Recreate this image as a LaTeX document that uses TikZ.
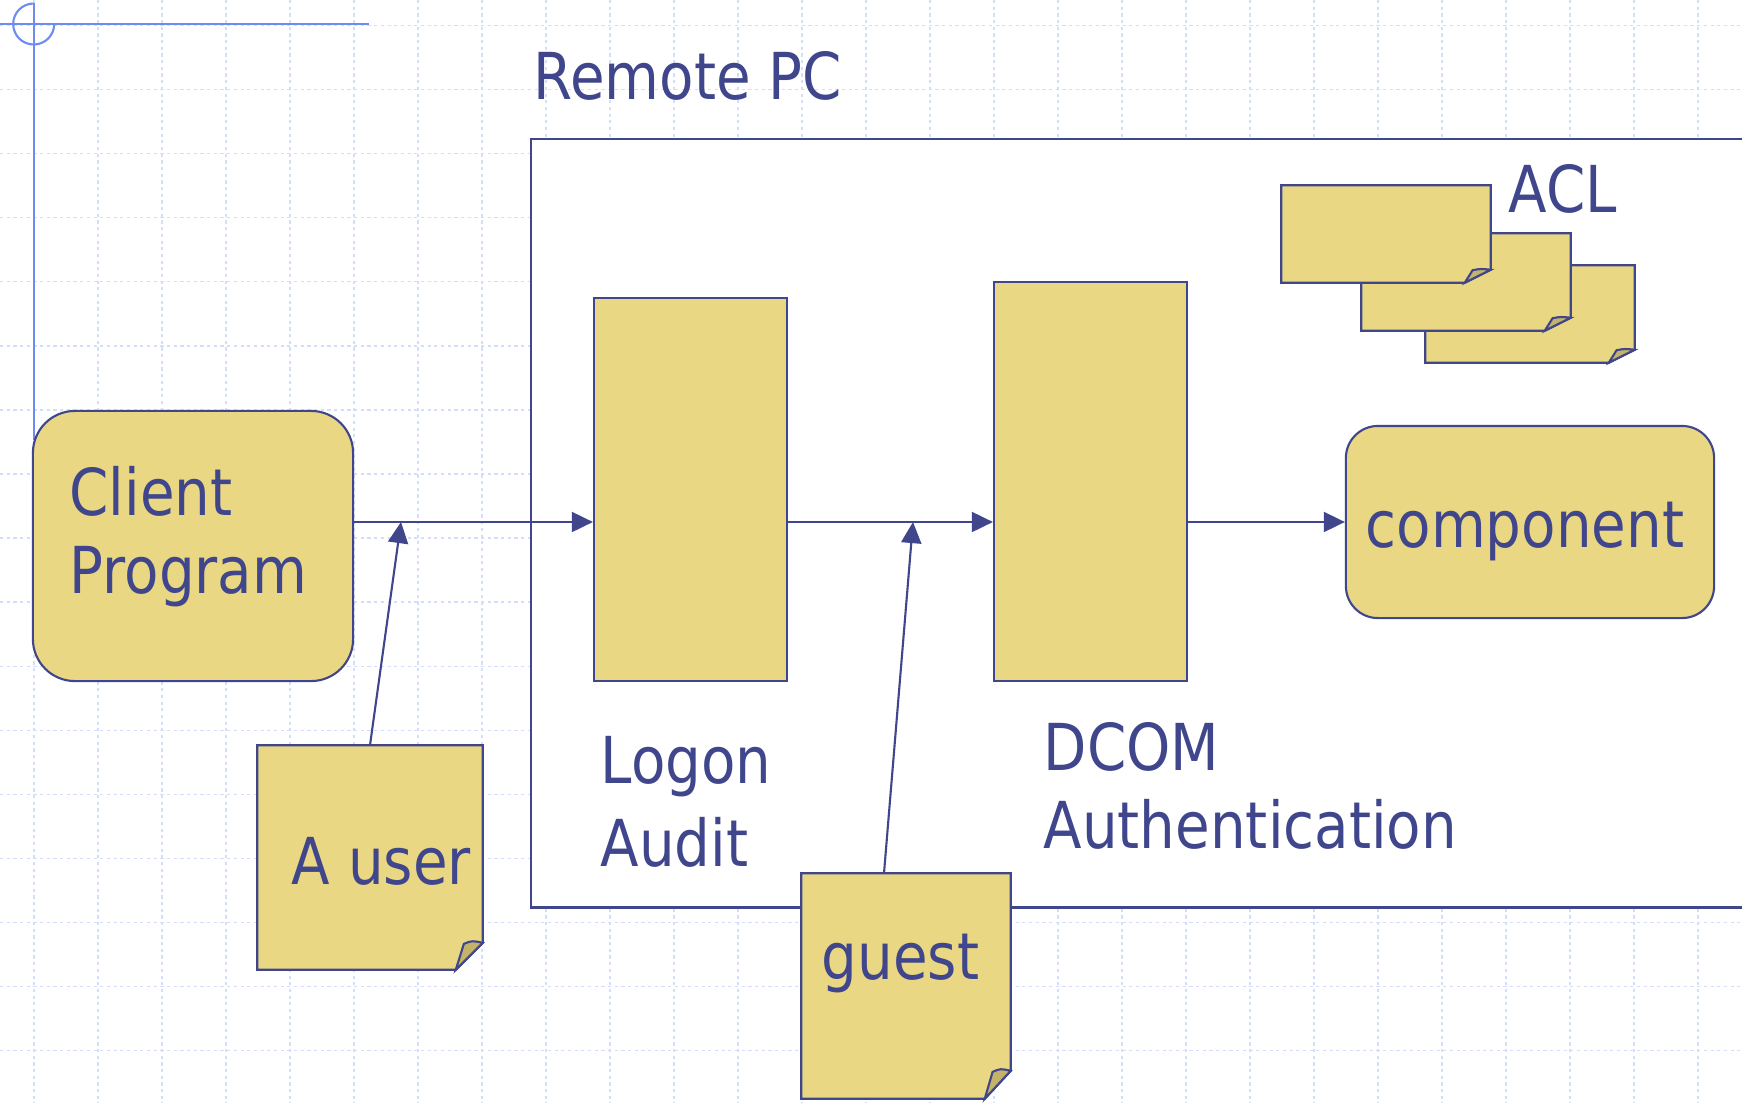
\documentclass[tikz,border=0pt]{standalone}
\usepackage{fontspec}
\setmainfont{DejaVu Sans}[FakeStretch=0.87]
\usetikzlibrary{arrows.meta,calc,positioning}
\definecolor{padcolor}{RGB}{234,215,131}
\definecolor{inkcolor}{RGB}{64,70,140}
\definecolor{foldcolor}{RGB}{196,178,104}
\definecolor{gridcolor}{RGB}{210,222,250}
\definecolor{crosscolor}{RGB}{110,140,240}

% sticky note with a turned-up corner: node name, fold width, fold height
\newcommand{\dognote}[3]{%
  \draw[ink, fill=padcolor] (#1.north west) -- (#1.north east) -- ($(#1.south east)+(0,-#3)$)
    -- ($(#1.south east)+(-#2,0)$) -- (#1.south west) -- cycle;
  \draw[ink, fill=foldcolor] ($(#1.south east)+(-#2,0)$) -- ($(#1.south east)+(-0.7*#2,-0.96*#3)$)
    .. controls ($(#1.south east)+(-0.4*#2,-1.08*#3)$) .. ($(#1.south east)+(0,-#3)$) -- cycle;
}

\begin{document}
\begin{tikzpicture}[
    x=0.01cm, y=-0.01cm,
    every node/.style={text=inkcolor, font=\fontsize{18.4}{22}\selectfont},
    ink/.style={draw=inkcolor, line width=0.6pt},
    block/.style={ink, fill=padcolor, inner sep=0pt},
    pad/.style={inner sep=0pt},
    boxtext/.style={anchor=base west, align=left, inner sep=0pt},
    flow/.style={ink, -{Triangle[length=6pt, width=5.7pt]}},
    gridline/.style={gridcolor, line width=0.4pt, dash pattern=on 0.9pt off 1.0pt},
    crossline/.style={crosscolor, line width=0.6pt}
]
\clip (0,0) rectangle (1742,1103);

% Grille de fond
\foreach \k in {0,...,26}
  \draw[gridline] (34+64*\k,0) -- (34+64*\k,1103);
\foreach \k in {0,...,17}
  \draw[gridline] (0,25.5+64.07*\k) -- (1742,25.5+64.07*\k);

% Repere en haut a gauche
\draw[crossline] (0,24) -- (369,24);
\draw[crossline] (33.7,3) -- (33.7,440);
\draw[crossline] (33.7,3.5) arc[start angle=90, end angle=360, radius=0.205cm];

% Remote PC
\node[ink, fill=white, anchor=north west, minimum width=12.4cm, minimum height=7.68cm] (remote) at (530,138) {};

% Blocs
\node[block, minimum width=3.20cm, minimum height=2.70cm, rounded corners=0.42cm] (client) at (193,546) {};
\node[block, minimum width=1.93cm, minimum height=3.83cm] (logon) at (690.5,489.5) {};
\node[block, minimum width=1.93cm, minimum height=3.99cm] (dcom) at (1090.5,481.5) {};
\node[block, minimum width=3.68cm, minimum height=1.92cm, rounded corners=0.32cm] (comp) at (1530,522) {};

% ACL
\node[pad, minimum width=2.08cm, minimum height=0.96cm] (acl3) at (1530,314) {};
\node[pad, minimum width=2.08cm, minimum height=0.96cm] (acl2) at (1466,282) {};
\node[pad, minimum width=2.08cm, minimum height=0.96cm] (acl1) at (1386,234) {};
\dognote{acl3}{26}{13}
\dognote{acl2}{26}{13}
\dognote{acl1}{26}{13}

% Fleches
\coordinate (usertap) at (401,522);
\coordinate (guesttap) at (913,522);
\draw[flow] (client.east |- comp.west) -- (logon.west |- comp.west);
\draw[flow] (logon.east |- comp.west) -- (dcom.west |- comp.west);
\draw[flow] (dcom.east |- comp.west) -- (comp.west);

% Utilisateurs
\node[pad, minimum width=2.24cm, minimum height=2.23cm] (user) at (370,857.5) {};
\node[pad, minimum width=2.08cm, minimum height=2.24cm] (guest) at (906,986) {};
\draw[flow] (user.north) -- (usertap);
\draw[flow] ($(guest.north)+(-22,0)$) -- (guesttap);
\dognote{user}{27}{27}
\dognote{guest}{26}{28}

% Textes
\node[boxtext] (remotetext) at (533,99) {Remote PC};
\node[boxtext] (clienttext) at (69,593) {Client\\Program};
\node[boxtext] (logontext) at (600,866) {Logon\\[1.5pt]Audit};
\node[boxtext] (dcomtext) at (1043,848) {DCOM\\Authentication};
\node[boxtext] (comptext) at (1365,547) {component};
\node[boxtext] (acltext) at (1508,212) {ACL};
\node[boxtext] (usertext) at (291,884) {A user};
\node[boxtext] (guesttext) at (821,979) {guest};

\end{tikzpicture}
\end{document}
